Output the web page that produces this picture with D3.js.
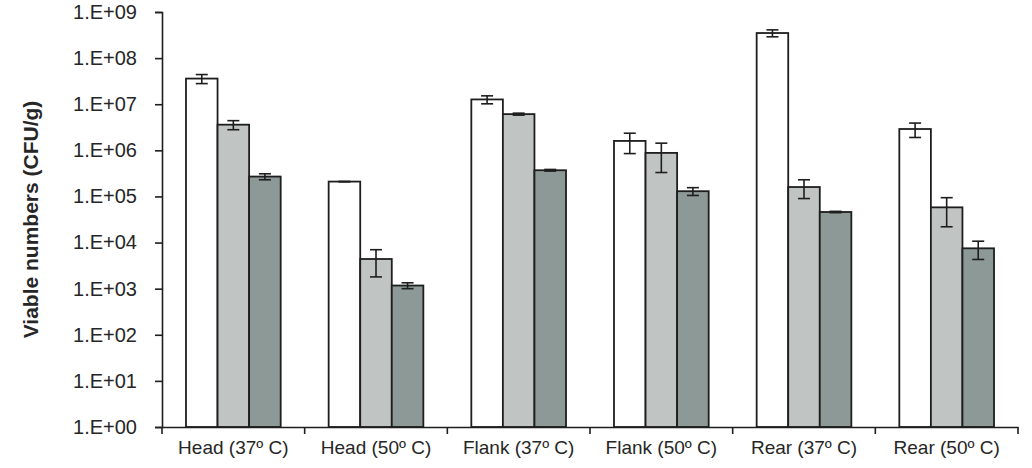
<!DOCTYPE html>
<html>
<head>
<meta charset="utf-8">
<script src="https://cdn.jsdelivr.net/npm/d3@7"></script>
<style>
  html, body { margin: 0; padding: 0; background: #fff; }
  #chart { width: 1032px; height: 468px; }
  text { font-family: "Liberation Sans", Arial, sans-serif; fill: #262626; }
</style>
</head>
<body>
<div id="chart"></div>
<script>
const categories = ['Head (37º C)', 'Head (50º C)', 'Flank (37º C)', 'Flank (50º C)', 'Rear (37º C)', 'Rear (50º C)'];
const seriesNames = ['s1', 's2', 's3'];
const s1Values = [3.6e7, 2.1e5, 1.27e7, 1.6e6, 3.5e8, 2.9e6];
const s1Errors = [8e6, 2e3, 2.5e6, 7.5e5, 6e7, 1e6];
const s2Values = [3.6e6, 4.4e3, 6.1e6, 8.8e5, 1.6e5, 5.8e4];
const s2Errors = [8e5, 2.6e3, 3e5, 5.5e5, 7e4, 3.6e4];
const s3Values = [2.7e5, 1.17e3, 3.7e5, 1.3e5, 4.6e4, 7.5e3];
const s3Errors = [4e4, 1.7e2, 1.5e4, 2.5e4, 1.5e3, 3.2e3];
const yTicks = [1e0, 1e1, 1e2, 1e3, 1e4, 1e5, 1e6, 1e7, 1e8, 1e9];
const yTickLabels = ['1.E+00', '1.E+01', '1.E+02', '1.E+03', '1.E+04', '1.E+05', '1.E+06', '1.E+07', '1.E+08', '1.E+09'];
const yTitle = 'Viable numbers (CFU/g)';

const COLORS = ['#ffffff', '#c0c5c3', '#8d9996'];
const STROKE = '#1e1e1e';
const FONT = '"Liberation Sans", Arial, sans-serif';

(() => {
  const width = 1032;
  const height = 468;
  const margin = { top: 12, right: 14, bottom: 41, left: 162 };
  const svg = d3.select('#chart').append('svg').attr('width', width).attr('height', height);

  const x = d3.scaleBand().domain(categories).range([margin.left, width - margin.right]);
  const x1 = d3.scaleBand().domain(seriesNames).range([0, x.bandwidth()]).paddingInner(0).paddingOuter(0.76);
  const y = d3.scaleLog().domain([1, 1e9]).range([height - margin.bottom, margin.top]);

  const values = [s1Values, s2Values, s3Values];
  const errors = [s1Errors, s2Errors, s3Errors];
  const rows = [];
  categories.forEach((cat, i) => {
    seriesNames.forEach((s, j) => {
      rows.push({ cat, s, color: COLORS[j], value: values[j][i], err: errors[j][i] });
    });
  });

  svg.selectAll('.bar')
    .data(rows)
    .enter()
    .append('rect')
    .attr('class', 'bar')
    .attr('x', (d) => x(d.cat) + x1(d.s))
    .attr('y', (d) => y(d.value))
    .attr('width', x1.bandwidth())
    .attr('height', (d) => y(1) - y(d.value))
    .attr('fill', (d) => d.color)
    .attr('stroke', STROKE)
    .attr('stroke-width', 1.8);

  const cap = 6;
  const err = svg.append('g').attr('stroke', STROKE).attr('stroke-width', 1.6);
  rows.forEach((d) => {
    const cx = x(d.cat) + x1(d.s) + x1.bandwidth() / 2;
    const hi = y(d.value + d.err);
    const lo = y(Math.max(1, d.value - d.err));
    err.append('line').attr('x1', cx).attr('x2', cx).attr('y1', hi).attr('y2', lo);
    err.append('line').attr('x1', cx - cap).attr('x2', cx + cap).attr('y1', hi).attr('y2', hi);
    err.append('line').attr('x1', cx - cap).attr('x2', cx + cap).attr('y1', lo).attr('y2', lo);
  });

  // y axis
  const yAxis = svg.append('g')
    .attr('transform', `translate(${margin.left},0)`)
    .call(d3.axisLeft(y).tickValues(yTicks).tickSize(7).tickPadding(18)
      .tickFormat((v, i) => yTickLabels[i]));
  yAxis.select('.domain').attr('stroke', STROKE).attr('stroke-width', 1.6);
  yAxis.selectAll('.tick line').attr('stroke', STROKE).attr('stroke-width', 1.6);
  yAxis.selectAll('.tick text').attr('font-size', 20).attr('font-family', FONT).attr('fill', '#262626');

  // x axis
  const xAxis = svg.append('g')
    .attr('transform', `translate(0,${height - margin.bottom})`)
    .call(d3.axisBottom(x).tickSize(0).tickPadding(14));
  xAxis.select('.domain').attr('stroke', STROKE).attr('stroke-width', 1.6);
  xAxis.selectAll('.tick text').attr('font-size', 19).attr('font-family', FONT).attr('fill', '#262626');

  // boundary ticks between categories
  const bounds = categories.map((c) => x(c)).concat([x.range()[1]]);
  svg.append('g')
    .selectAll('line')
    .data(bounds)
    .enter()
    .append('line')
    .attr('x1', (d) => d).attr('x2', (d) => d)
    .attr('y1', y(1)).attr('y2', y(1) + 7)
    .attr('stroke', STROKE).attr('stroke-width', 1.6);

  svg.append('text')
    .attr('transform', `translate(38,${(margin.top + height - margin.bottom) / 2}) rotate(-90)`)
    .attr('text-anchor', 'middle')
    .attr('font-size', 21)
    .attr('font-weight', 'bold')
    .text(yTitle);
})();
</script>
</body>
</html>
